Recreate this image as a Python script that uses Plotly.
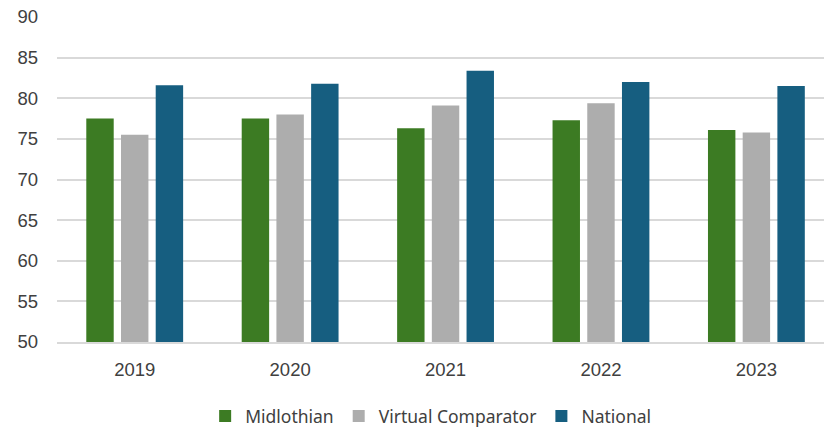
import plotly.graph_objects as go

years = ["2019", "2020", "2021", "2022", "2023"]
midlothian = [77.5, 77.5, 76.3, 77.3, 76.1]
virtual_comparator = [75.5, 78.0, 79.1, 79.4, 75.8]
national = [81.6, 81.8, 83.4, 82.0, 81.5]

series = [
    ("Midlothian", midlothian, "#3C7B23"),
    ("Virtual Comparator", virtual_comparator, "#ADADAD"),
    ("National", national, "#165E80"),
]

fig = go.Figure()
for name, values, color in series:
    fig.add_trace(go.Bar(
        x=years, y=values, name=name,
        marker=dict(color=color, line=dict(width=0)),
    ))

fig.update_layout(
    width=825, height=429,
    margin=dict(l=57, r=1, t=17, b=87),
    paper_bgcolor="white", plot_bgcolor="white",
    barmode="group", bargap=0.33, bargroupgap=0.21,
    font=dict(family="Arial", size=18.5, color="#404040"),
    showlegend=True,
    legend=dict(
        orientation="h", xref="container", yref="container",
        x=0.522, y=0.03, xanchor="center", yanchor="middle",
        font=dict(family="Noto Sans", size=17.5, color="#404040"),
        itemwidth=30, traceorder="normal",
    ),
)
fig.update_xaxes(
    type="category", range=[-0.5, 4.435],
    showgrid=False, showline=True, linecolor="#D9D9D9", linewidth=2,
    ticks="", ticklabelstandoff=10,
)
fig.update_yaxes(
    range=[50, 90], dtick=5,
    showgrid=True, gridcolor="#D9D9D9", gridwidth=2,
    zeroline=False, showline=False, ticks="", ticklabelstandoff=18,
)

fig.write_html("out.html")
